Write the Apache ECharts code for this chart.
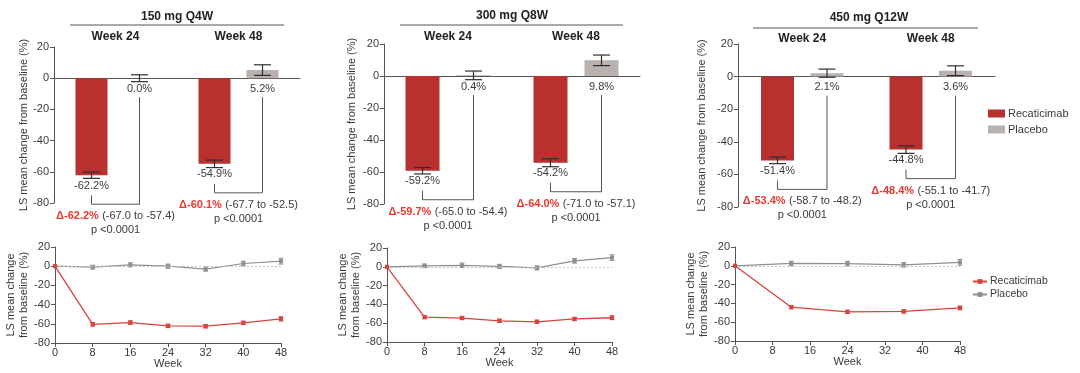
<!DOCTYPE html>
<html><head><meta charset="utf-8">
<script src="https://cdn.jsdelivr.net/npm/echarts@6/dist/echarts.min.js"></script>
<style>html,body{margin:0;padding:0;background:#fff}#c{width:1080px;height:373px}</style>
</head><body><div id="c"></div>
<script>
// ---------------- DATA ----------------
const doseGroups = ['150 mg Q4W', '300 mg Q8W', '450 mg Q12W'];
const weekCategories = ['Week 24', 'Week 48'];
const recaticimabBar = [[-62.2, -54.9], [-59.2, -54.2], [-51.4, -44.8]];
const placeboBar = [[0.0, 5.2], [0.4, 9.8], [2.1, 3.6]];
const recaticimabBarErr = [[2.0, 2.4], [2.0, 2.5], [2.0, 2.3]];
const placeboBarErr = [[2.2, 3.4], [2.7, 3.3], [2.5, 3.0]];
const deltaLabels = [['Δ-62.2%', 'Δ-60.1%'], ['Δ-59.7%', 'Δ-64.0%'], ['Δ-53.4%', 'Δ-48.4%']];
const ciLabels = [['(-67.0 to -57.4)', '(-67.7 to -52.5)'], ['(-65.0 to -54.4)', '(-71.0 to -57.1)'], ['(-58.7 to -48.2)', '(-55.1 to -41.7)']];
const pLabel = 'p <0.0001';
const yTicks = [-80, -60, -40, -20, 0, 20];
const weekTicks = [0, 8, 16, 24, 32, 40, 48];
const lineWeeks = [[0, 8, 16, 24, 32, 40, 48], [0, 8, 16, 24, 32, 40, 48], [0, 12, 24, 36, 48]];
const recaticimabLine = [[0, -60.5, -58.7, -62.2, -62.5, -59.0, -54.9], [0, -53.5, -54.5, -57.5, -58.5, -55.5, -54.2], [0, -44.0, -49.0, -48.5, -44.8]];
const placeboLine = [[0, -1.0, 1.4, 0.0, -3.0, 2.8, 5.2], [0, 1.0, 1.5, 0.4, -1.2, 6.3, 9.8], [0, 2.5, 2.3, 1.0, 3.6]];
const recaticimabLineErr = [[0, 1.8, 1.8, 1.8, 1.8, 1.8, 2.2], [0, 1.8, 1.8, 1.8, 1.8, 1.8, 2.0], [0, 1.8, 1.8, 1.8, 2.0]];
const placeboLineErr = [[0, 2.0, 2.2, 2.2, 2.2, 2.4, 3.0], [0, 2.0, 2.4, 2.2, 2.2, 2.4, 3.0], [0, 2.4, 2.4, 2.4, 3.0]];
const seriesNames = ['Recaticimab', 'Placebo'];

// ---------------- STYLE / LAYOUT ----------------
const FONT = '"Liberation Sans", Arial, sans-serif';
const REC_BAR = '#b8312f', PLA_BAR = '#b9b1ad';
const REC_LINE = '#d8433d', PLA_LINE = '#8f8f8f';
const AX = '#555', TXT = '#3a3a3a';
const topGrids = [
  {left: 54, top: 47, width: 246, height: 156},
  {left: 384, top: 44, width: 256, height: 160},
  {left: 738, top: 44, width: 257, height: 163}
];
const bottomGrids = [
  {left: 55, top: 247, width: 226, height: 96},
  {left: 387, top: 248, width: 225, height: 94},
  {left: 735, top: 247, width: 225, height: 94}
];
const barWidths = [32, 34, 33];
const BAR_GAP = 0.5;
const weekLabelMargin = [4, 1, -1];
const topNameGap = [25, 27, 31];
const botNameGap = [21, 25, 23];
const titlePos = [[177, 17], [512, 16], [869, 18]];
const underline = [[70, 284, 25], [400, 623, 25], [753, 978, 28]];

const yMin = Math.min(...yTicks), yMax = Math.max(...yTicks), yInt = yTicks[1] - yTicks[0];

function barErrRender(off, capW) {
  return function (params, api) {
    const cat = api.value(0), v = api.value(1), e = api.value(2);
    const p = api.coord([cat, v]);
    const x = p[0] + off;
    const hi = api.coord([cat, v + e])[1], lo = api.coord([cat, v - e])[1];
    const z = api.coord([cat, 0])[1];
    const ly = Math.max(p[1], z) + 5;
    const st = {stroke: '#2e2e2e', lineWidth: 1.2};
    return {type: 'group', children: [
      {type: 'line', shape: {x1: x, y1: hi, x2: x, y2: lo}, style: st},
      {type: 'line', shape: {x1: x - capW / 2, y1: hi, x2: x + capW / 2, y2: hi}, style: st},
      {type: 'line', shape: {x1: x - capW / 2, y1: lo, x2: x + capW / 2, y2: lo}, style: st},
      {type: 'text', x: x, y: ly, style: {text: v.toFixed(1) + '%', align: 'center', verticalAlign: 'top', fontSize: 11, fill: TXT, fontFamily: FONT}}
    ]};
  };
}

function bracketRender(off, deltas, cis) {
  return function (params, api) {
    const cat = api.value(0), v = api.value(1);
    const z = api.coord([cat, 0]);
    const p = api.coord([cat, v]);
    const xl = z[0] - off, xr = z[0] + off;
    const leftTop = p[1] + 20, bottom = leftTop + 9, rightTop = z[1] + 19;
    const i = params.dataIndex;
    return {type: 'group', children: [
      {type: 'polyline', shape: {points: [[xl, leftTop], [xl, bottom], [xr, bottom], [xr, rightTop]]}, style: {stroke: '#555', fill: null, lineWidth: 1}},
      {type: 'text', x: (xl + xr) / 2, y: bottom + 5, style: {
        text: '{d|' + deltas[i] + '} {c|' + cis[i] + '}\n{c|' + pLabel + '}',
        align: 'center', verticalAlign: 'top', fontFamily: FONT,
        rich: {
          d: {fill: '#e8382f', fontWeight: 'bold', fontSize: 11, lineHeight: 14, fontFamily: FONT},
          c: {fill: TXT, fontSize: 11, lineHeight: 14, fontFamily: FONT}
        }
      }}
    ]};
  };
}

function lineErrRender(color) {
  return function (params, api) {
    const w = api.value(0), v = api.value(1), e = api.value(2);
    if (!e) return null;
    const x = api.coord([w, v])[0];
    const hi = api.coord([w, v + e])[1], lo = api.coord([w, v - e])[1];
    const st = {stroke: color, lineWidth: 1};
    return {type: 'group', children: [
      {type: 'line', shape: {x1: x, y1: hi, x2: x, y2: lo}, style: st},
      {type: 'line', shape: {x1: x - 2.5, y1: hi, x2: x + 2.5, y2: hi}, style: st},
      {type: 'line', shape: {x1: x - 2.5, y1: lo, x2: x + 2.5, y2: lo}, style: st}
    ]};
  };
}

const grid = [], xAxis = [], yAxis = [], series = [], graphic = [];
const tickLabel = {fontSize: 11, color: TXT, fontFamily: FONT};

for (let i = 0; i < 3; i++) {
  grid.push(Object.assign({containLabel: false}, topGrids[i]));
  xAxis.push({type: 'category', gridIndex: i, data: weekCategories, position: 'bottom',
    axisLine: {onZero: true, lineStyle: {color: AX, width: 1}}, axisTick: {show: false}, axisLabel: {show: false}});
  xAxis.push({type: 'category', gridIndex: i, data: weekCategories, position: 'top',
    axisLine: {show: false}, axisTick: {show: false},
    axisLabel: {margin: weekLabelMargin[i], fontSize: 12, fontWeight: 'bold', color: '#222', fontFamily: FONT}});
  yAxis.push({type: 'value', gridIndex: i, min: yMin, max: yMax, interval: yInt,
    name: 'LS mean change from baseline (%)', nameLocation: 'middle', nameGap: topNameGap[i],
    nameTextStyle: {fontSize: 11, color: TXT, fontFamily: FONT},
    axisLine: {show: true, lineStyle: {color: AX}}, axisTick: {show: true, length: 4, lineStyle: {color: AX}},
    axisLabel: Object.assign({margin: 5}, tickLabel), splitLine: {show: false}});
  const bw = barWidths[i];
  const off = bw * (1 + BAR_GAP) / 2;
  series.push({type: 'bar', name: seriesNames[0], xAxisIndex: 2 * i, yAxisIndex: i, barWidth: bw, barGap: (BAR_GAP * 100) + '%',
    data: recaticimabBar[i], itemStyle: {color: REC_BAR}, silent: true});
  series.push({type: 'bar', name: seriesNames[1], xAxisIndex: 2 * i, yAxisIndex: i, barWidth: bw, barGap: (BAR_GAP * 100) + '%',
    data: placeboBar[i], itemStyle: {color: PLA_BAR}, silent: true});
  series.push({type: 'custom', xAxisIndex: 2 * i, yAxisIndex: i, z: 5, silent: true,
    renderItem: barErrRender(-off, 17),
    data: recaticimabBar[i].map((v, k) => [k, v, recaticimabBarErr[i][k]])});
  series.push({type: 'custom', xAxisIndex: 2 * i, yAxisIndex: i, z: 5, silent: true,
    renderItem: barErrRender(off, 17),
    data: placeboBar[i].map((v, k) => [k, v, placeboBarErr[i][k]])});
  series.push({type: 'custom', xAxisIndex: 2 * i, yAxisIndex: i, z: 5, silent: true, clip: false,
    renderItem: bracketRender(off, deltaLabels[i], ciLabels[i]),
    data: recaticimabBar[i].map((v, k) => [k, v])});
  graphic.push({type: 'text', x: titlePos[i][0], y: titlePos[i][1], style: {text: doseGroups[i], align: 'center', verticalAlign: 'middle', fontSize: 12, fontWeight: 'bold', fill: '#222', fontFamily: FONT}});
  graphic.push({type: 'line', shape: {x1: underline[i][0], y1: underline[i][2], x2: underline[i][1], y2: underline[i][2]}, style: {stroke: '#555', lineWidth: 1}});
}

for (let i = 0; i < 3; i++) {
  const g = 3 + i;
  grid.push(Object.assign({containLabel: false}, bottomGrids[i]));
  xAxis.push({type: 'value', gridIndex: g, min: weekTicks[0], max: weekTicks[weekTicks.length - 1], interval: weekTicks[1] - weekTicks[0],
    name: 'Week', nameLocation: 'middle', nameGap: 15, nameTextStyle: {fontSize: 11, color: TXT, fontFamily: FONT},
    axisLine: {onZero: false, lineStyle: {color: AX}}, axisTick: {show: true, length: 4, lineStyle: {color: AX}},
    axisLabel: Object.assign({margin: 4}, tickLabel), splitLine: {show: false}});
  yAxis.push({type: 'value', gridIndex: g, min: yMin, max: yMax, interval: yInt,
    name: 'LS mean change\nfrom baseline (%)', nameLocation: 'middle', nameGap: botNameGap[i],
    nameTextStyle: {fontSize: 11, color: TXT, fontFamily: FONT, lineHeight: 13},
    axisLine: {show: true, lineStyle: {color: AX}}, axisTick: {show: true, length: 4, lineStyle: {color: AX}},
    axisLabel: Object.assign({margin: 5}, tickLabel), splitLine: {show: false}});
  const xi = 6 + i;
  series.push({type: 'custom', xAxisIndex: xi, yAxisIndex: g, silent: true, z: 3,
    renderItem: lineErrRender(PLA_LINE),
    data: placeboLine[i].map((v, k) => [lineWeeks[i][k], v, placeboLineErr[i][k]])});
  series.push({type: 'line', name: seriesNames[1] + '-line', xAxisIndex: xi, yAxisIndex: g, silent: true, z: 4,
    data: placeboLine[i].map((v, k) => [lineWeeks[i][k], v]),
    symbol: 'rect', symbolSize: 4, showAllSymbol: true,
    lineStyle: {color: PLA_LINE, width: 1.2}, itemStyle: {color: PLA_LINE},
    markLine: {silent: true, symbol: 'none', label: {show: false},
      lineStyle: {color: '#c4c4c4', type: [2, 2], width: 1}, data: [{yAxis: 0}]}});
  series.push({type: 'custom', xAxisIndex: xi, yAxisIndex: g, silent: true, z: 5,
    renderItem: lineErrRender(REC_LINE),
    data: recaticimabLine[i].map((v, k) => [lineWeeks[i][k], v, recaticimabLineErr[i][k]])});
  series.push({type: 'line', name: seriesNames[0] + '-line', xAxisIndex: xi, yAxisIndex: g, silent: true, z: 6,
    data: recaticimabLine[i].map((v, k) => [lineWeeks[i][k], v]),
    symbol: 'rect', symbolSize: 4, showAllSymbol: true,
    lineStyle: {color: REC_LINE, width: 1.3}, itemStyle: {color: REC_LINE}});
}

const chart = echarts.init(document.getElementById('c'), null, {renderer: 'canvas'});
chart.setOption({
  backgroundColor: '#fff',
  animation: false,
  grid, xAxis, yAxis, series, graphic,
  legend: [
    {orient: 'vertical', left: 983, top: 103, itemGap: 5, itemWidth: 17, itemHeight: 8, selectedMode: false,
      data: seriesNames.map(n => ({name: n, icon: 'rect'})),
      textStyle: {fontSize: 11, color: TXT, fontFamily: FONT, padding: [0, 0, 0, -2]}},
    {orient: 'vertical', left: 967, top: 271, itemGap: 2, itemWidth: 14, itemHeight: 6, selectedMode: false,
      data: seriesNames.map(n => n + '-line'),
      formatter: n => n.replace('-line', ''),
      textStyle: {fontSize: 10.5, color: TXT, fontFamily: FONT, padding: [0, 0, 0, -2]}}
  ]
});
</script>
</body></html>
